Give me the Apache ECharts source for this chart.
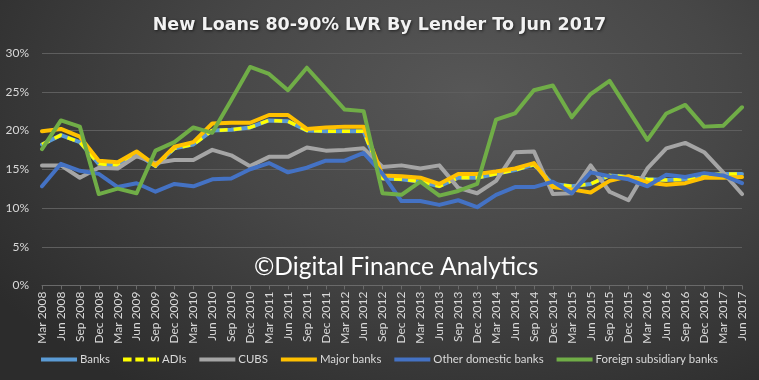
<!DOCTYPE html>
<html>
<head>
<meta charset="utf-8">
<script src="https://cdn.jsdelivr.net/npm/echarts@6/dist/echarts.min.js"></script>
<style>
html,body{margin:0;padding:0;}
#c{width:759px;height:380px;background:radial-gradient(ellipse 75% 95% at 62% 25%, #575757 0%, #474747 45%, #2c2c2c 100%);}
</style>
</head>
<body>
<div id="c"></div>
<script>
var categories = ["Mar 2008","Jun 2008","Sep 2008","Dec 2008","Mar 2009","Jun 2009","Sep 2009","Dec 2009","Mar 2010","Jun 2010","Sep 2010","Dec 2010","Mar 2011","Jun 2011","Sep 2011","Dec 2011","Mar 2012","Jun 2012","Sep 2012","Dec 2012","Mar 2013","Jun 2013","Sep 2013","Dec 2013","Mar 2014","Jun 2014","Sep 2014","Dec 2014","Mar 2015","Jun 2015","Sep 2015","Dec 2015","Mar 2016","Jun 2016","Sep 2016","Dec 2016","Mar 2017","Jun 2017"];
var yTicks = [0,5,10,15,20,25,30];

var banks = [18.2,19.4,18.5,15.7,15.5,17.0,15.4,17.7,18.2,20.0,20.1,20.4,21.3,21.2,20.0,19.9,19.9,19.9,13.8,13.7,13.4,12.8,13.9,13.9,14.4,14.9,15.6,13.1,12.8,13.1,14.2,14.0,13.7,13.6,13.7,14.2,14.4,14.4];
var adis = [18.2,19.4,18.5,15.7,15.5,17.0,15.4,17.7,18.2,20.0,20.1,20.4,21.3,21.2,20.0,19.9,19.9,19.9,13.8,13.7,13.4,12.8,13.9,13.9,14.4,14.9,15.6,13.1,12.8,13.1,14.2,14.0,13.7,13.6,13.7,14.2,14.4,14.4];
var cubs = [15.5,15.5,13.9,15.2,15.1,16.7,15.8,16.2,16.2,17.5,16.8,15.4,16.6,16.6,17.8,17.4,17.5,17.7,15.3,15.5,15.1,15.5,12.6,11.9,13.5,17.2,17.3,11.8,11.9,15.5,12.1,11.0,15.1,17.7,18.4,17.2,14.6,11.8];
var majorBanks = [19.9,20.2,19.2,16.1,15.9,17.3,15.5,17.9,18.5,20.9,21.0,21.0,22.0,22.0,20.2,20.4,20.5,20.5,14.2,14.1,13.9,13.1,14.4,14.4,14.7,15.1,15.8,12.7,12.4,12.0,13.5,14.1,13.3,13.0,13.2,13.9,13.9,14.0];
var otherDomestic = [12.8,15.7,14.8,14.4,12.7,13.2,12.1,13.1,12.8,13.7,13.8,15.0,15.8,14.6,15.2,16.1,16.1,17.1,14.4,10.9,10.9,10.4,11.0,10.1,11.7,12.7,12.7,13.4,11.9,14.6,14.1,13.7,12.8,14.3,14.0,14.5,14.2,13.2];
var foreignSub = [17.6,21.3,20.5,11.8,12.5,11.9,17.4,18.5,20.4,19.7,23.9,28.2,27.3,25.2,28.1,25.4,22.7,22.5,11.9,11.7,13.4,11.6,12.2,13.1,21.4,22.2,25.2,25.8,21.7,24.7,26.4,22.6,18.8,22.2,23.3,20.5,20.6,23.0];

var FONT = "Lato, 'Open Sans', sans-serif";
var chart = echarts.init(document.getElementById('c'), null, {renderer: 'canvas'});

function ser(name, data, color, extra) {
  var s = {
    name: name, type: 'line', data: data, symbol: 'none', smooth: false,
    lineStyle: {color: color, width: 4, cap: 'round', join: 'round'},
    itemStyle: {color: color},
    emphasis: {disabled: true}
  };
  if (extra) { for (var k in extra) s.lineStyle[k] = extra[k]; }
  return s;
}

var rectIcon = 'path://M0,0H38V4H0Z';
var dashIcon = 'path://M0,0H9V4H0Z M13,0H22V4H13Z M26,0H35V4H26Z M36,0H38V4H36Z';

chart.setOption({
  animation: false,
  backgroundColor: 'transparent',
  title: {
    text: 'New Loans 80-90% LVR By Lender To Jun 2017',
    left: 'center', top: 11,
    textStyle: {color: '#f2f2f2', fontFamily: "'DejaVu Sans', sans-serif", fontWeight: 'bold', fontSize: 17.5,
      textShadowColor: 'rgba(0,0,0,0.6)', textShadowBlur: 3, textShadowOffsetX: 1, textShadowOffsetY: 1}
  },
  grid: {left: 42, right: 17, top: 53, bottom: 94.5, containLabel: false},
  xAxis: {
    type: 'category', data: categories, boundaryGap: false,
    axisLine: {show: true, lineStyle: {color: '#6a6a6a', width: 1}},
    axisTick: {show: true, alignWithLabel: true, length: 4, lineStyle: {color: '#6a6a6a'}},
    axisLabel: {rotate: 90, interval: 0, color: '#d9d9d9', fontFamily: FONT, fontSize: 12, margin: 6},
    splitLine: {show: false}
  },
  yAxis: {
    type: 'value', min: yTicks[0], max: yTicks[yTicks.length-1], interval: 5,
    axisLine: {show: false}, axisTick: {show: false},
    axisLabel: {color: '#d9d9d9', fontFamily: FONT, fontSize: 12, margin: 13, formatter: function(v){return v + '%';}},
    splitLine: {show: true, lineStyle: {color: '#5e5e5e', width: 1}}
  },
  legend: {
    bottom: 10, left: 'center', itemWidth: 36, itemHeight: 4, itemGap: 13,
    textStyle: {color: '#d9d9d9', fontFamily: FONT, fontSize: 11.4, padding: [0,0,0,-2]},
    data: [
      {name: 'Banks', icon: rectIcon},
      {name: 'ADIs', icon: dashIcon},
      {name: 'CUBS', icon: rectIcon},
      {name: 'Major banks', icon: rectIcon},
      {name: 'Other domestic banks', icon: rectIcon},
      {name: 'Foreign subsidiary banks', icon: rectIcon}
    ]
  },
  graphic: [{
    type: 'text', left: 254, top: 255, z: 100,
    style: {text: '\u00A9Digital Finance Analytics', fill: '#ffffff', font: "24.5px Lato, 'Open Sans', sans-serif"}
  }],
  series: [
    ser('Banks', banks, '#5B9BD5'),
    ser('ADIs', adis, '#FFFF00', {width: 3.5, type: [8, 6], cap: 'butt'}),
    ser('CUBS', cubs, '#A5A5A5'),
    ser('Major banks', majorBanks, '#FFC000'),
    ser('Other domestic banks', otherDomestic, '#4472C4'),
    ser('Foreign subsidiary banks', foreignSub, '#70AD47')
  ]
});
</script>
</body>
</html>
